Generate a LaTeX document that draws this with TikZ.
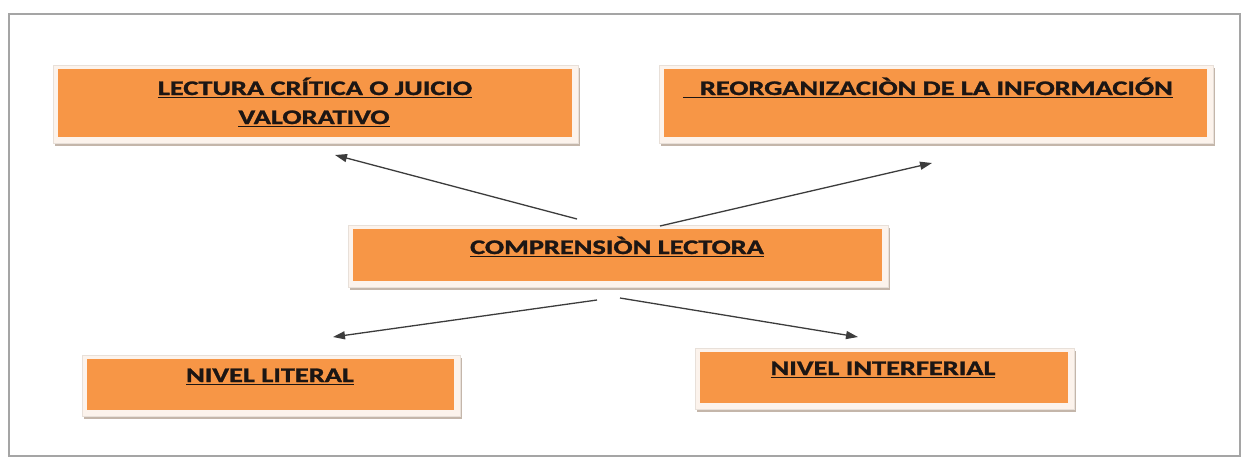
\documentclass[tikz,border=0pt]{standalone}
\usepackage{fontspec}
\usepackage{graphicx}
\setmainfont{Carlito}[BoldFeatures={FakeBold=1.2}]
\usetikzlibrary{arrows.meta,calc,backgrounds}
\definecolor{boxorange}{RGB}{247,150,70}
\definecolor{boxcream}{RGB}{252,243,236}
\definecolor{boxedge}{RGB}{232,224,217}
\definecolor{boxshade}{RGB}{196,182,170}
\definecolor{framegray}{RGB}{165,165,165}
\definecolor{arrowgray}{RGB}{60,60,60}
\definecolor{txtdark}{RGB}{28,22,20}
\newcommand\ulbox[1]{\setbox0\hbox{#1}\rlap{\vrule height -1.5pt depth 3.4pt width \wd0}\box0}
\newcommand\wtxt[1]{\scalebox{1.37}[1]{\ulbox{#1}}}
\newcommand\boxback[1]{%
  \fill[boxshade] ($(#1.north west)+(-3,-1)$) rectangle ($(#1.south east)+(8,9)$);
  \filldraw[fill=boxcream,draw=boxedge,line width=0.5pt] ($(#1.north west)+(-5,-4)$) rectangle ($(#1.south east)+(6,6)$);}
\begin{document}
\begin{tikzpicture}[x=1pt,y=-1pt,
  orangebox/.style={rectangle, inner sep=0pt, outer sep=0pt, fill=boxorange},
  lbl/.style={inner sep=0pt, outer sep=0pt, anchor=base, text=txtdark,
    font=\fontsize{20.7}{29}\selectfont\bfseries},
  arr/.style={draw=arrowgray, line width=1.3pt, -{Triangle[length=12pt,width=8pt]}}]
\useasboundingbox (0,0) rectangle (1245,458);
\begin{scope}[on background layer]
  \fill[white] (0,0) rectangle (1245,458);
  \draw[framegray, line width=1.3pt] (9,14) rectangle (1240,456);
\end{scope}

\node[orangebox, minimum width=514pt, minimum height=68pt] (b1) at (315,103) {};
\node[orangebox, minimum width=543pt, minimum height=68pt] (b2) at (935.5,103) {};
\node[orangebox, minimum width=529pt, minimum height=52pt] (bc) at (617.5,255) {};
\node[orangebox, minimum width=367pt, minimum height=51pt] (b3) at (270.5,384.5) {};
\node[orangebox, minimum width=368pt, minimum height=51pt] (b4) at (884,377.5) {};

\begin{scope}[on background layer]
  \boxback{b1}\boxback{b2}\boxback{bc}\boxback{b3}\boxback{b4}
\end{scope}

\node[lbl] (t1a) at (315,95) {\wtxt{LECTURA CRÍTICA O JUICIO}};
\node[lbl] (t1b) at (314,124) {\wtxt{VALORATIVO}};
\node[lbl, anchor=base west] (t2) at (683,95) {\wtxt{\hspace*{12.4pt}REORGANIZACIÒN DE LA INFORMACIÓN}};
\node[lbl] (tc) at (617,254) {\wtxt{COMPRENSIÒN LECTORA}};
\node[lbl] (t3) at (270,382) {\wtxt{NIVEL LITERAL}};
\node[lbl] (t4) at (883,375) {\wtxt{NIVEL INTERFERIAL}};

\coordinate (s1) at (577,219); \coordinate (e1) at (335,155);
\coordinate (s2) at (660,226); \coordinate (e2) at (932,163);
\coordinate (s3) at (597,300); \coordinate (e3) at (333,337);
\coordinate (s4) at (620,298); \coordinate (e4) at (858,337);
\draw[arr] (s1) -- (e1);
\draw[arr] (s2) -- (e2);
\draw[arr] (s3) -- (e3);
\draw[arr] (s4) -- (e4);
\end{tikzpicture}
\end{document}
